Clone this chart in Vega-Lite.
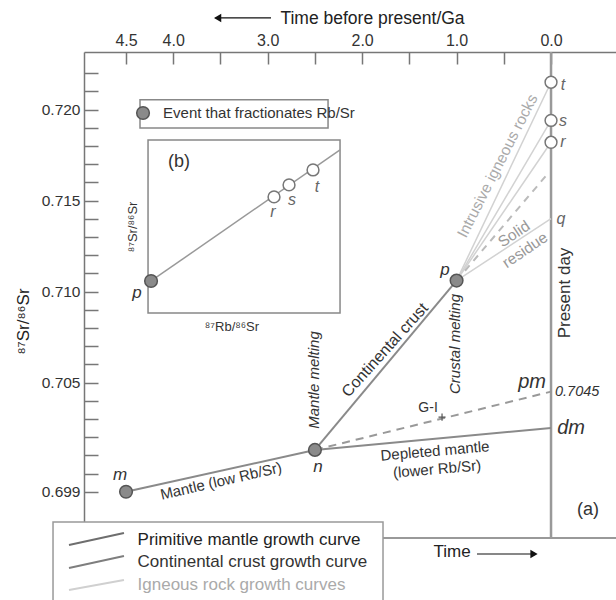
{
  "$schema": "https://vega.github.io/schema/vega-lite/v6.json",
  "width": 532,
  "height": 486,
  "autosize": {"type": "none"},
  "padding": {"left": 84, "top": 52, "right": 0, "bottom": 62},
  "background": "white",
  "config": {"font": "Liberation Sans", "view": {"stroke": null}},
  "resolve": {"scale": {"color": "independent"}},
  "encoding": {
    "x": {
      "field": "Ga", "type": "quantitative",
      "scale": {"domain": [-0.688, 4.945], "reverse": true, "nice": false, "zero": false},
      "axis": {
        "orient": "top",
        "values": [4.5, 4, 3.5, 3, 2.5, 2, 1.5, 1, 0.5, 0],
        "labelExpr": "indexof([35,25,15,5], round(datum.value*10)) >= 0 ? '' : format(datum.value, '.1f')",
        "tickSize": -12, "labelPadding": 16, "labelFontSize": 16, "labelColor": "#333",
        "domainColor": "#777", "tickColor": "#777", "domainWidth": 1.5, "tickWidth": 1.5,
        "grid": false, "labelFlush": false, "labelOverlap": false,
        "title": "Time before present/Ga", "titleFontSize": 17.5, "titleFontWeight": "normal", "titleColor": "#222",
        "titleX": 288, "titleY": -34, "titleAlign": "center", "titleBaseline": "middle"
      }
    },
    "y": {
      "field": "Sr", "type": "quantitative",
      "scale": {"domain": [0.69646, 0.72316], "nice": false, "zero": false},
      "axis": {
        "orient": "left",
        "values": [0.699, 0.7, 0.701, 0.702, 0.703, 0.704, 0.705, 0.706, 0.707, 0.708, 0.709, 0.71, 0.711, 0.712, 0.713, 0.714, 0.715, 0.716, 0.717, 0.718, 0.719, 0.72, 0.721, 0.722],
        "labelExpr": "indexof([699,705,710,715,720], round(datum.value*1000)) >= 0 ? format(datum.value, '.3f') : ''",
        "tickSize": -14, "labelPadding": 18, "labelFontSize": 15.5, "labelColor": "#333",
        "domainColor": "#777", "tickColor": "#777", "domainWidth": 1.5, "tickWidth": 1.5,
        "grid": false, "labelFlush": false, "labelOverlap": false,
        "title": "⁸⁷Sr/⁸⁶Sr", "titleFontSize": 17, "titleFontWeight": "normal", "titleColor": "#222",
        "titleX": -61, "titleY": 269, "titleAngle": 270, "titleAlign": "center", "titleBaseline": "middle"
      }
    }
  },
  "layer": [
    {
      "data": {"values": [{"Ga": -0.688, "Ga2": 4.945, "Sr": 0.69646}]},
      "mark": {"type": "rule", "color": "#777", "strokeWidth": 1.5},
      "encoding": {"x2": {"field": "Ga2"}}
    },
    {
      "data": {"values": [{"Ga": 0, "Sr": 0.72316, "Sr2": 0.69646}]},
      "mark": {"type": "rule", "color": "#999", "strokeWidth": 2.5},
      "encoding": {"y2": {"field": "Sr2"}}
    },
    {
      "data": {"values": [
        {"Ga": 4.5, "Sr": 0.699, "Ga2": 2.5, "Sr2": 0.7013},
        {"Ga": 2.5, "Sr": 0.7013, "Ga2": 1.0, "Sr2": 0.7106},
        {"Ga": 2.5, "Sr": 0.7013, "Ga2": 0, "Sr2": 0.7025}
      ]},
      "mark": {"type": "rule", "color": "#8a8a8a", "strokeWidth": 2},
      "encoding": {"x2": {"field": "Ga2"}, "y2": {"field": "Sr2"}}
    },
    {
      "data": {"values": [{"Ga": 2.5, "Sr": 0.7013, "Ga2": 0, "Sr2": 0.7045}]},
      "mark": {"type": "rule", "color": "#999", "strokeWidth": 2, "strokeDash": [8, 6]},
      "encoding": {"x2": {"field": "Ga2"}, "y2": {"field": "Sr2"}}
    },
    {
      "data": {"values": [
        {"Ga": 1.0, "Sr": 0.7106, "Ga2": 0, "Sr2": 0.7215},
        {"Ga": 1.0, "Sr": 0.7106, "Ga2": 0, "Sr2": 0.7194},
        {"Ga": 1.0, "Sr": 0.7106, "Ga2": 0, "Sr2": 0.7182},
        {"Ga": 1.0, "Sr": 0.7106, "Ga2": 0, "Sr2": 0.714}
      ]},
      "mark": {"type": "rule", "color": "#d2d2d2", "strokeWidth": 1.5},
      "encoding": {"x2": {"field": "Ga2"}, "y2": {"field": "Sr2"}}
    },
    {
      "data": {"values": [{"Ga": 1.0, "Sr": 0.7106, "Ga2": 0.03, "Sr2": 0.7165}]},
      "mark": {"type": "rule", "color": "#bbb", "strokeWidth": 2, "strokeDash": [7, 6]},
      "encoding": {"x2": {"field": "Ga2"}, "y2": {"field": "Sr2"}}
    },
    {
      "data": {"values": [{"Ga": 4.267, "Ga2": 2.234, "Sr": 0.71833, "Sr2": 0.70882}]},
      "mark": {"type": "rect", "fill": "white", "fillOpacity": 0, "stroke": "#888", "strokeWidth": 1.5},
      "encoding": {"x2": {"field": "Ga2"}, "y2": {"field": "Sr2"}}
    },
    {
      "data": {"values": [{"Ga": 4.235, "Sr": 0.71058, "Ga2": 2.234, "Sr2": 0.71778}]},
      "mark": {"type": "rule", "color": "#999", "strokeWidth": 1.5},
      "encoding": {"x2": {"field": "Ga2"}, "y2": {"field": "Sr2"}}
    },
    {
      "data": {"values": [{"Ga": 4.352, "Ga2": 2.361, "Sr": 0.72053, "Sr2": 0.71899}]},
      "mark": {"type": "rect", "fill": "white", "stroke": "#888", "strokeWidth": 1.5},
      "encoding": {"x2": {"field": "Ga2"}, "y2": {"field": "Sr2"}}
    },
    {
      "data": {"values": [{"Ga": 5.273, "Ga2": 1.779, "Sr": 0.69734, "Sr2": 0.6912}]},
      "mark": {"type": "rect", "fill": "white", "stroke": "#999", "strokeWidth": 1.5},
      "encoding": {"x2": {"field": "Ga2"}, "y2": {"field": "Sr2"}}
    },
    {
      "data": {"values": [
        {"curve": "Primitive mantle growth curve", "Ga": 5.104, "Sr": 0.69607, "Ga2": 4.522, "Sr2": 0.69673},
        {"curve": "Continental crust growth curve", "Ga": 5.104, "Sr": 0.69481, "Ga2": 4.522, "Sr2": 0.69547},
        {"curve": "Igneous rock growth curves", "Ga": 5.104, "Sr": 0.6936, "Ga2": 4.522, "Sr2": 0.69415}
      ]},
      "mark": {"type": "rule", "strokeWidth": 2},
      "encoding": {
        "x2": {"field": "Ga2"}, "y2": {"field": "Sr2"},
        "color": {"field": "curve", "type": "nominal", "legend": null,
          "scale": {"domain": ["Primitive mantle growth curve", "Continental crust growth curve", "Igneous rock growth curves"], "range": ["#6e6e6e", "#7e7e7e", "#d0d0d0"]}}
      }
    },
    {
      "data": {"values": [
        {"curve": "Primitive mantle growth curve", "label": "Primitive mantle growth curve", "Ga": 4.378, "Sr": 0.69635},
        {"curve": "Continental crust growth curve", "label": "Continental  crust growth curve", "Ga": 4.378, "Sr": 0.69514},
        {"curve": "Igneous rock growth curves", "label": "Igneous rock growth curves", "Ga": 4.378, "Sr": 0.69388}
      ]},
      "mark": {"type": "text", "align": "left", "baseline": "middle", "fontSize": 17},
      "encoding": {
        "text": {"field": "label"},
        "color": {"field": "curve", "type": "nominal", "legend": null,
          "scale": {"domain": ["Primitive mantle growth curve", "Continental crust growth curve", "Igneous rock growth curves"], "range": ["#222", "#333", "#aaa"]}}
      }
    },
    {
      "data": {"values": [{"Ga": 3.55, "Ga2": 2.965, "Sr": 0.72503}, {"Ga": 0.784, "Ga2": 0.17, "Sr": 0.69558}]},
      "mark": {"type": "rule", "color": "#111", "strokeWidth": 1.2},
      "encoding": {"x2": {"field": "Ga2"}}
    },
    {
      "data": {"values": [{"Ga": 3.53, "Sr": 0.72503}]},
      "mark": {"type": "point", "shape": "triangle-left", "filled": true, "color": "#111", "size": 70, "opacity": 1},
      "encoding": {}
    },
    {
      "data": {"values": [{"Ga": 0.18, "Sr": 0.69558}]},
      "mark": {"type": "point", "shape": "triangle-right", "filled": true, "color": "#111", "size": 70, "opacity": 1},
      "encoding": {}
    },
    {
      "data": {"values": [
        {"event": "m", "Ga": 4.5, "Sr": 0.699},
        {"event": "n", "Ga": 2.5, "Sr": 0.7013},
        {"event": "p", "Ga": 1.0, "Sr": 0.7106},
        {"event": "inset p", "Ga": 4.235, "Sr": 0.71058},
        {"event": "legend", "Ga": 4.32, "Sr": 0.71981}
      ]},
      "mark": {"type": "point", "shape": "circle", "filled": true, "fill": "#8a8a8a", "stroke": "#555", "strokeWidth": 1.5, "size": 160, "opacity": 1}
    },
    {
      "data": {"values": [
        {"rock": "t", "Ga": 0, "Sr": 0.7215},
        {"rock": "s", "Ga": 0, "Sr": 0.7194},
        {"rock": "r", "Ga": 0, "Sr": 0.7182},
        {"rock": "inset r", "Ga": 2.933, "Sr": 0.7152},
        {"rock": "inset s", "Ga": 2.774, "Sr": 0.71586},
        {"rock": "inset t", "Ga": 2.52, "Sr": 0.71668}
      ]},
      "mark": {"type": "point", "shape": "circle", "filled": true, "fill": "white", "stroke": "#777", "strokeWidth": 1.5, "size": 140, "opacity": 1}
    },
    {
      "data": {"values": [{"Ga": 1.154, "Sr": 0.7031}]},
      "mark": {"type": "point", "shape": "M-1,0H1M0,-1V1", "filled": false, "stroke": "#555", "strokeWidth": 1.2, "size": 50, "opacity": 1}
    },
    {
      "data": {"values": [
        {"label": "m", "Ga": 4.564, "Sr": 0.69992},
        {"label": "n", "Ga": 2.467, "Sr": 0.70036},
        {"label": "p", "Ga": 1.122, "Sr": 0.71118},
        {"label": "p", "Ga": 4.384, "Sr": 0.70992}
      ]},
      "mark": {"type": "text", "fontStyle": "italic", "fontSize": 17, "color": "#333", "align": "center", "baseline": "middle"},
      "encoding": {"text": {"field": "label"}}
    },
    {
      "data": {"values": [
        {"label": "t", "Ga": -0.127, "Sr": 0.72136},
        {"label": "s", "Ga": -0.127, "Sr": 0.71937},
        {"label": "r", "Ga": -0.127, "Sr": 0.71822},
        {"label": "q", "Ga": -0.106, "Sr": 0.71399},
        {"label": "r", "Ga": 2.944, "Sr": 0.71437},
        {"label": "s", "Ga": 2.742, "Sr": 0.71503},
        {"label": "t", "Ga": 2.478, "Sr": 0.71575}
      ]},
      "mark": {"type": "text", "fontStyle": "italic", "fontSize": 16, "color": "#666", "align": "center", "baseline": "middle"},
      "encoding": {"text": {"field": "label"}}
    },
    {
      "data": {"values": [
        {"label": "pm", "Ga": 0.201, "Sr": 0.70503},
        {"label": "dm", "Ga": -0.212, "Sr": 0.7025}
      ]},
      "mark": {"type": "text", "fontStyle": "italic", "fontSize": 20, "color": "#333", "align": "center", "baseline": "middle"},
      "encoding": {"text": {"field": "label"}}
    },
    {
      "data": {"values": [{"label": "0.7045", "Ga": -0.042, "Sr": 0.7045}]},
      "mark": {"type": "text", "fontStyle": "italic", "fontSize": 14.5, "color": "#333", "align": "left", "baseline": "middle"},
      "encoding": {"text": {"field": "label"}}
    },
    {
      "data": {"values": [
        {"label": "Mantle melting", "Ga": 2.508, "Sr": 0.70514},
        {"label": "Crustal melting", "Ga": 1.017, "Sr": 0.70712}
      ]},
      "mark": {"type": "text", "fontStyle": "italic", "fontSize": 15, "color": "#333", "align": "center", "baseline": "middle", "angle": 270},
      "encoding": {"text": {"field": "label"}}
    },
    {
      "data": {"values": [{"label": "Present day", "Ga": -0.148, "Sr": 0.70992}]},
      "mark": {"type": "text", "fontSize": 17, "color": "#333", "align": "center", "baseline": "middle", "angle": 270},
      "encoding": {"text": {"field": "label"}}
    },
    {
      "data": {"values": [{"label": "Continental crust", "Ga": 1.758, "Sr": 0.70679}]},
      "mark": {"type": "text", "fontSize": 16, "color": "#333", "align": "center", "baseline": "middle", "angle": 312},
      "encoding": {"text": {"field": "label"}}
    },
    {
      "data": {"values": [{"label": "Intrusive igneous rocks", "Ga": 0.567, "Sr": 0.7169}]},
      "mark": {"type": "text", "fontSize": 15.5, "color": "#aaa", "align": "center", "baseline": "middle", "angle": 297},
      "encoding": {"text": {"field": "label"}}
    },
    {
      "data": {"values": [
        {"label": "Solid", "Ga": 0.392, "Sr": 0.71316},
        {"label": "residue", "Ga": 0.275, "Sr": 0.71228}
      ]},
      "mark": {"type": "text", "fontSize": 15.5, "color": "#999", "align": "center", "baseline": "middle", "angle": 326},
      "encoding": {"text": {"field": "label"}}
    },
    {
      "data": {"values": [{"label": "Mantle (low Rb/Sr)", "Ga": 3.494, "Sr": 0.69959}]},
      "mark": {"type": "text", "fontSize": 15, "color": "#333", "align": "center", "baseline": "middle", "angle": 347},
      "encoding": {"text": {"field": "label"}}
    },
    {
      "data": {"values": [
        {"label": "Depleted mantle", "Ga": 1.228, "Sr": 0.70124},
        {"label": "(lower Rb/Sr)", "Ga": 1.207, "Sr": 0.70025}
      ]},
      "mark": {"type": "text", "fontSize": 15, "color": "#333", "align": "center", "baseline": "middle", "angle": 355},
      "encoding": {"text": {"field": "label"}}
    },
    {
      "data": {"values": [{"label": "G-I", "Ga": 1.302, "Sr": 0.7036}]},
      "mark": {"type": "text", "fontSize": 14, "color": "#333", "align": "center", "baseline": "middle"},
      "encoding": {"text": {"field": "label"}}
    },
    {
      "data": {"values": [
        {"label": "(a)", "Ga": -0.392, "Sr": 0.698},
        {"label": "(b)", "Ga": 3.939, "Sr": 0.71712}
      ]},
      "mark": {"type": "text", "fontSize": 18, "color": "#333", "align": "center", "baseline": "middle"},
      "encoding": {"text": {"field": "label"}}
    },
    {
      "data": {"values": [{"label": "Event that fractionates Rb/Sr", "Ga": 4.108, "Sr": 0.71981}]},
      "mark": {"type": "text", "fontSize": 15, "color": "#333", "align": "left", "baseline": "middle"},
      "encoding": {"text": {"field": "label"}}
    },
    {
      "data": {"values": [{"label": "⁸⁷Sr/⁸⁶Sr", "Ga": 4.426, "Sr": 0.71355}]},
      "mark": {"type": "text", "fontSize": 13, "color": "#333", "align": "center", "baseline": "middle", "angle": 270},
      "encoding": {"text": {"field": "label"}}
    },
    {
      "data": {"values": [{"label": "⁸⁷Rb/⁸⁶Sr", "Ga": 3.378, "Sr": 0.70805}]},
      "mark": {"type": "text", "fontSize": 13, "color": "#333", "align": "center", "baseline": "middle"},
      "encoding": {"text": {"field": "label"}}
    },
    {
      "data": {"values": [{"label": "Time", "Ga": 1.048, "Sr": 0.69569}]},
      "mark": {"type": "text", "fontSize": 17, "color": "#222", "align": "center", "baseline": "middle"},
      "encoding": {"text": {"field": "label"}}
    }
  ]
}
